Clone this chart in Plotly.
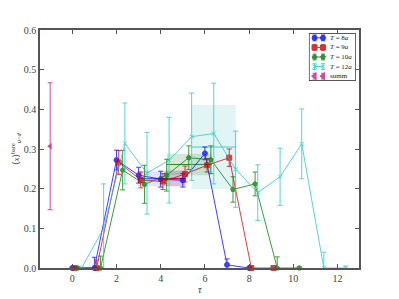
import plotly.graph_objects as go

# ---- data ----
tau_8 = [0, 1, 2, 3, 4, 5, 6, 7, 8]
val_8 = [0.0, 0.0, 0.272, 0.234, 0.224, 0.221, 0.289, 0.008, 0.0]
err_8 = [0.003, 0.027, 0.025, 0.02, 0.02, 0.017, 0.016, 0.015, 0.002]

tau_9 = [0.1, 1.1, 2.1, 3.1, 4.1, 5.1, 6.1, 7.1, 8.1, 9.1]
val_9 = [0.0, 0.0, 0.266, 0.222, 0.218, 0.237, 0.259, 0.278, 0.0, 0.0]
err_9 = [0.003, 0.02, 0.03, 0.02, 0.02, 0.02, 0.017, 0.022, 0.002, 0.002]

tau_10 = [0.25, 1.28, 2.28, 3.27, 4.27, 5.27, 6.27, 7.27, 8.27, 9.27, 10.27]
val_10 = [0.0, 0.0, 0.247, 0.211, 0.234, 0.278, 0.273, 0.198, 0.212, 0.0, 0.0]
err_10 = [0.003, 0.03, 0.05, 0.048, 0.04, 0.03, 0.035, 0.032, 0.03, 0.028, 0.003]

tau_12 = [0.42, 1.42, 2.38, 3.38, 4.38, 5.4, 6.4, 7.39, 8.39, 9.4, 10.38, 11.38, 12.37]
val_12 = [0.0, 0.1, 0.314, 0.239, 0.272, 0.331, 0.339, 0.249, 0.19, 0.23, 0.313, 0.0, 0.0]
err_12 = [0.002, 0.112, 0.102, 0.103, 0.108, 0.11, 0.127, 0.096, 0.07, 0.072, 0.088, 0.04, 0.005]

tau_summ = [-1.0]
val_summ = [0.307]
err_summ = [0.16]

# fit bands: (x start, x end, centre, half-width)
band_8 = [2.95, 5.1, 0.225, 0.019]
band_9 = [4.15, 5.15, 0.226, 0.02]
band_10 = [4.27, 6.3, 0.261, 0.027]
band_12 = [5.4, 7.4, 0.305, 0.106]

legend_labels = ["<i>T</i> = 8<i>a</i>", "<i>T</i> = 9<i>a</i>", "<i>T</i> = 10<i>a</i>",
                 "<i>T</i> = 12<i>a</i>", "summ"]
x_title = "<i>τ</i>"
y_title = "⟨<i>x</i>⟩<sup>bare</sup><sub><i>u</i>−<i>d</i></sub>"

series = [
    (tau_8, val_8, err_8, band_8, "#0000ff", "circle", 5),
    (tau_9, val_9, err_9, band_9, "#cc0000", "square", 5),
    (tau_10, val_10, err_10, band_10, "#007700", "pentagon", 5),
    (tau_12, val_12, err_12, band_12, "#22c4c4", "x-thin", 4),
]
summ_col = "#c0208a"

band_fill = {
    "#0000ff": "rgba(60,60,230,0.15)",
    "#cc0000": "rgba(170,40,60,0.17)",
    "#007700": "rgba(20,110,20,0.17)",
    "#22c4c4": "rgba(30,180,180,0.13)",
}

fig = go.Figure()

for xs, ys, es, band, col, sym, ms in series:
    x0, x1, c, h = band
    fig.add_trace(go.Scatter(
        x=[x0, x1, x1, x0, x0], y=[c - h, c - h, c + h, c + h, c - h],
        fill="toself", fillcolor=band_fill[col], mode="lines",
        line=dict(width=0), showlegend=False, hoverinfo="skip"))
    fig.add_trace(go.Scatter(
        x=[x0, x1], y=[c, c], mode="lines",
        line=dict(color=col, width=1), opacity=0.8,
        showlegend=False, hoverinfo="skip"))

for xs, ys, es, band, col, sym, ms in series:
    fig.add_trace(go.Scatter(
        x=xs, y=ys, mode="lines+markers", showlegend=False,
        line=dict(color=col, width=1),
        marker=dict(color=col, symbol=sym, size=ms, line=dict(color=col, width=1)),
        error_y=dict(type="data", array=es, color=col, thickness=1, width=2.5),
        opacity=0.75, cliponaxis=False))

fig.add_trace(go.Scatter(
    x=tau_summ, y=val_summ, mode="markers", showlegend=False,
    marker=dict(color=summ_col, symbol="triangle-left", size=6),
    error_y=dict(type="data", array=err_summ, color=summ_col, thickness=1, width=2.5),
    opacity=0.8))

# ---- compact legend on an inset axis ----
fig.add_trace(go.Scatter(
    x=[0, 1, 1, 0, 0], y=[0, 0, 5, 5, 0], xaxis="x2", yaxis="y2",
    mode="lines", fill="toself", fillcolor="white",
    line=dict(color="#222222", width=1.3), showlegend=False, hoverinfo="skip"))

leg_styles = [(s[4], s[5], s[6]) for s in series] + [(summ_col, "triangle-left", 6)]
for i, (lab, (col, sym, ms)) in enumerate(zip(legend_labels, leg_styles)):
    yr = 4.5 - i
    is_summ = lab == "summ"
    fig.add_trace(go.Scatter(
        x=[0.12, 0.30], y=[yr, yr], xaxis="x2", yaxis="y2",
        mode="markers" if is_summ else "lines+markers",
        line=dict(color=col, width=1),
        marker=dict(color=col, symbol=sym, size=ms, line=dict(color=col, width=1)),
        error_y=dict(type="constant", value=0.3, color=col, thickness=1, width=2),
        opacity=0.8, showlegend=False, hoverinfo="skip"))
    fig.add_annotation(x=0.40, y=yr, xref="x2", yref="y2", text=lab,
                       showarrow=False, xanchor="left", yanchor="middle",
                       font=dict(size=7, color="#222222"))

# axis titles
fig.add_annotation(x=0.5, y=-0.092, xref="paper", yref="paper", text=x_title,
                   showarrow=False, xanchor="center", yanchor="middle",
                   font=dict(size=10, color="#333333"))
fig.add_annotation(x=-0.078, y=0.5, xref="paper", yref="paper", text=y_title,
                   showarrow=False, xanchor="center", yanchor="middle", textangle=-90,
                   font=dict(size=9, color="#333333"))

axis_common = dict(
    showgrid=False, zeroline=False, showline=True, linecolor="#555555",
    linewidth=1.5, mirror="ticks", ticks="inside", ticklen=4,
    tickcolor="#555555", tickfont=dict(size=10, color="#444444"),
    automargin=False,
)

# page body has an 8px margin, so the figure is sized/offset to compensate
fig.update_layout(
    width=391, height=291,
    margin=dict(l=32, r=40, t=22, b=31),
    paper_bgcolor="white", plot_bgcolor="white",
    font=dict(family="Liberation Serif, DejaVu Serif, serif", color="#333333"),
    xaxis=dict(range=[-1.46, 12.97], tickvals=[0, 2, 4, 6, 8, 10, 12], **axis_common),
    yaxis=dict(range=[0, 0.6], tickvals=[0, 0.1, 0.2, 0.3, 0.4, 0.5, 0.6],
               tickformat=".1f", **axis_common),
    xaxis2=dict(domain=[0.843, 0.99], range=[0, 1], visible=False, fixedrange=True,
                anchor="y2"),
    yaxis2=dict(domain=[0.786, 0.987], range=[0, 5], visible=False, fixedrange=True,
                anchor="x2"),
    showlegend=False,
)

fig.write_html("out.html")
